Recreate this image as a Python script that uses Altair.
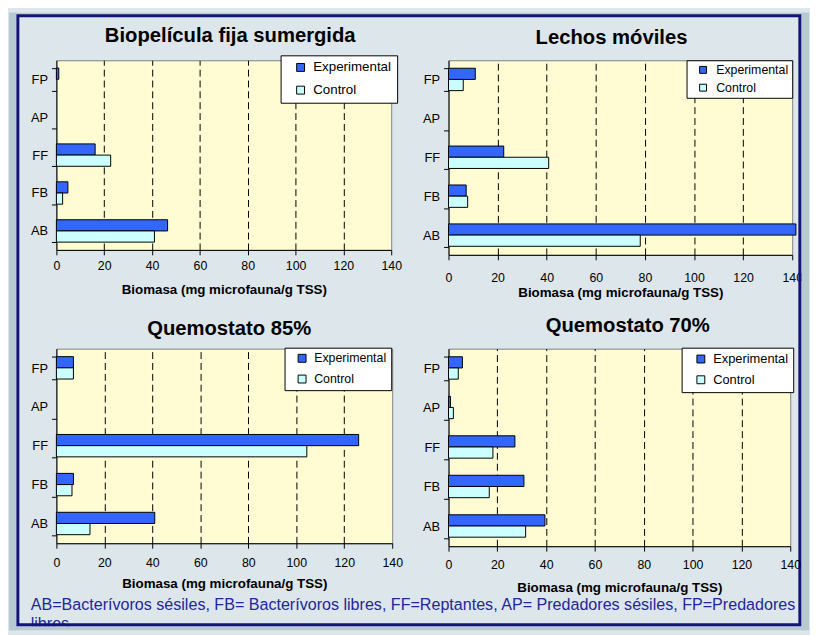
import altair as alt
import pandas as pd

# ---------------- data ----------------
categories = ["FP", "AP", "FF", "FB", "AB"]
series = ["Experimental", "Control"]
panel_titles = ["Biopelícula fija sumergida", "Lechos móviles", "Quemostato 85%", "Quemostato 70%"]

bio_exp = [1.0, 0.0, 16.2, 4.8, 46.5]
bio_ctl = [0.0, 0.0, 22.7, 2.6, 41.0]
lec_exp = [10.9, 0.0, 22.5, 7.2, 141.5]
lec_ctl = [6.0, 0.0, 40.8, 7.8, 78.1]
q85_exp = [7.1, 0.0, 126.0, 7.1, 41.0]
q85_ctl = [7.1, 0.0, 104.4, 6.5, 14.0]
q70_exp = [5.7, 0.8, 27.2, 30.9, 39.5]
q70_ctl = [4.0, 2.0, 18.2, 16.7, 31.6]

x_ticks = [0, 20, 40, 60, 80, 100, 120, 140]
axis_title = "Biomasa (mg microfauna/g TSS)"
footnote = [
    "AB=Bacterívoros sésiles, FB= Bacterívoros libres, FF=Reptantes, AP= Predadores sésiles, FP=Predadores",
    "libres",
]

# ---------------- styles ----------------
FONT = "Liberation Sans, Arial, sans-serif"
bar_colors = ["#3366ff", "#ccffff"]
plot_fill = "#fffbd2"
inner_bg = "#dde6ea"
outer_bg = "#b7c9d1"
frame_col = "#141478"
foot_col = "#22279a"

one_row = alt.InlineData(values=[{"k": 1}])


def deco_rect(x1, x2, y1, y2, **kw):
    return alt.Chart(one_row).mark_rect(**kw).encode(
        x=alt.value(x1), x2=alt.value(x2), y=alt.value(y1), y2=alt.value(y2)
    )


def panel(title, exp, ctl, w, h, t, leg, ax, extra=None):
    rows = []
    for c, e, k in zip(categories, exp, ctl):
        rows.append({"cat": c, "series": "Experimental", "value": e})
        rows.append({"cat": c, "series": "Control", "value": k})
    df = pd.DataFrame(rows)
    df = df[df["value"] > 0]

    bars = alt.Chart(df).mark_bar(stroke="black", strokeWidth=1).encode(
        x=alt.X(
            "value:Q",
            scale=alt.Scale(domain=[0, 140], nice=False, zero=True),
            axis=alt.Axis(
                values=x_ticks,
                title=axis_title,
                grid=True,
                gridDash=[7, 4],
                gridColor={
                    "condition": {"test": "datum.value <= 0 || datum.value >= 140", "value": "transparent"},
                    "value": "black",
                },
                gridWidth=1,
                tickSize=5,
                labelPadding=ax[0],
                titlePadding=ax[1],
                labelFontSize=12.5,
                titleFontSize=13.5,
                titleFontWeight="bold",
                labelFlush=False,
            ),
        ),
        y=alt.Y(
            "cat:N",
            sort=categories,
            scale=alt.Scale(domain=categories, paddingInner=0.41, paddingOuter=0.205),
            axis=alt.Axis(
                title=None,
                tickBand="extent",
                tickSize=5,
                labelPadding=4,
                labelFontSize=13,
            ),
        ),
        yOffset=alt.YOffset(
            "series:N", sort=series, scale=alt.Scale(domain=series, paddingInner=0, paddingOuter=0)
        ),
        color=alt.Color(
            "series:N",
            sort=series,
            scale=alt.Scale(domain=series, range=bar_colors),
            legend=alt.Legend(
                title=None,
                orient="none",
                legendX=leg["x"],
                legendY=leg["y"],
                fillColor="white",
                strokeColor="black",
                padding=leg["pad"],
                rowPadding=leg["rp"],
                labelFontSize=leg["fs"],
                labelColor="black",
                symbolType="square",
                symbolSize=leg["ss"],
                symbolStrokeColor="black",
                symbolStrokeWidth=1,
                symbolOffset=leg["so"],
                labelOffset=leg["lo"],
                cornerRadius=0,
            ),
        ),
    )

    ttl = alt.Chart(alt.InlineData(values=[{"t": title}])).mark_text(
        fontSize=t[2], fontWeight="bold", align="center", baseline="alphabetic", color="black"
    ).encode(text="t:N", x=alt.value(t[0]), y=alt.value(t[1]))

    layers = [bars, ttl]
    if extra:
        layers += extra
    return alt.layer(*layers).properties(width=w, height=h)


# decorations drawn from the bottom-left panel (origin = its plot area corner)
foot = alt.Chart(one_row).mark_text(
    text=footnote, align="left", baseline="alphabetic", fontSize=16.3, lineHeight=19.4, color=foot_col
).encode(x=alt.value(-26), y=alt.value(264.5))

decor = [
    foot,
    deco_rect(-48, 762, -340, -338, color=outer_bg),
    deco_rect(-48, -40.5, -340, 285, color=outer_bg),
    deco_rect(754.3, 762, -340, 285, color=outer_bg),
    deco_rect(-48, 762, 281, 285, color=outer_bg),
    deco_rect(-39, 752.7, -337, 279.5, fillOpacity=0, stroke=frame_col, strokeWidth=3),
]

p1 = panel(panel_titles[0], bio_exp, bio_ctl, 339, 192, (176, -18.3, 20.5),
           dict(x=227, y=-5, pad=5.5, rp=8, fs=13.5, ss=64, so=8, lo=6), (5, 11))
p2 = panel(panel_titles[1], lec_exp, lec_ctl, 348, 197, (165, -16.3, 20.5),
           dict(x=241, y=0, pad=3.5, rp=5, fs=12.5, ss=49, so=7, lo=7), (12, 2))
p3 = panel(panel_titles[2], q85_exp, q85_ctl, 340, 197, (175, -13.7, 20.5),
           dict(x=231, y=-1, pad=4.5, rp=8, fs=12.5, ss=64, so=7, lo=6), (9, 7), extra=decor)
p4 = panel(panel_titles[3], q70_exp, q70_ctl, 346, 200, (181.5, -16.7, 20.5),
           dict(x=236, y=-1, pad=5, rp=7, fs=13, ss=64, so=8, lo=6), (8, 9))

chart = (
    alt.concat(p1, p2, p3, p4, columns=2, spacing={"row": 92, "column": 49}, bounds="flush", align="all")
    .resolve_scale(color="independent")
    .resolve_legend(color="independent")
    .properties(background=inner_bg, padding=0)
    .configure(font=FONT)
    .configure_view(fill=plot_fill, stroke="#808080", strokeWidth=1)
    .configure_axis(
        domainColor="black",
        tickColor="black",
        labelColor="black",
        titleColor="black",
        labelFont=FONT,
        titleFont=FONT,
    )
    .configure_legend(labelFont=FONT)
)

chart.save("out.html", embed_options={"renderer": "svg", "actions": False})
